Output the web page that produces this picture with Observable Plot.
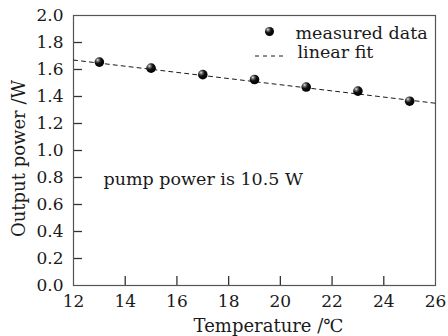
<!DOCTYPE html>
<html>
<head>
<meta charset="utf-8">
<script src="https://cdn.jsdelivr.net/npm/d3@7"></script>
<script src="https://cdn.jsdelivr.net/npm/@observablehq/plot@0.6"></script>
<style>
  html, body { margin: 0; padding: 0; background: #fff; }
</style>
</head>
<body>
<div id="chart"></div>
<script>
// Data
const temperature = [13, 15, 17, 19, 21, 23, 25];
const outputPower = [1.655, 1.61, 1.562, 1.526, 1.47, 1.44, 1.365];
const fitTemperature = [12, 26];
const fitPower = [1.67, 1.35];
const xTicks = [12, 14, 16, 18, 20, 22, 24, 26];
const yTicks = [0, 0.2, 0.4, 0.6, 0.8, 1.0, 1.2, 1.4, 1.6, 1.8, 2.0];
const xLabel = "Temperature /℃";
const yLabel = "Output power /W";
const legendLabels = ["measured data", "linear fit"];
const annotation = "pump power is 10.5 W";

const points = temperature.map((t, i) => ({t, p: outputPower[i]}));
const fit = fitTemperature.map((t, i) => ({t, p: fitPower[i]}));

const W = 448, H = 336;
const mL = 73, mR = 13, mT = 15, mB = 51;
const innerW = W - mL - mR, innerH = H - mT - mB;
const ink = "#1a1a1a";
const font = "'DejaVu Serif', serif";

const chart = Plot.plot({
  width: W, height: H,
  marginLeft: mL, marginRight: mR, marginTop: mT, marginBottom: mB,
  style: {fontFamily: font, fontSize: "17px", color: ink, background: "#fff"},
  x: {domain: [12, 26], ticks: xTicks},
  y: {domain: [0, 2], ticks: yTicks},
  marks: [
    Plot.axisX({ticks: xTicks, tickSize: 0, tickPadding: 9, label: null, tickFormat: d3.format("d")}),
    Plot.axisY({ticks: yTicks, tickSize: 0, tickPadding: 10, label: null, tickFormat: d3.format(".1f")}),
    Plot.tickX(xTicks.slice(1, -1), {x: d => d, insetTop: innerH - 9, stroke: "#333", strokeWidth: 1.3}),
    Plot.tickY(yTicks.slice(1, -1), {y: d => d, insetRight: innerW - 9, stroke: "#333", strokeWidth: 1.3}),
    Plot.frame({stroke: "#555", strokeWidth: 1.2}),
    Plot.line(fit, {x: "t", y: "p", stroke: ink, strokeWidth: 1, strokeDasharray: "4,4"}),
    Plot.dot(points, {x: "t", y: "p", r: 4.8, fill: "url(#ball)", stroke: "none"}),
    // legend
    Plot.dot([legendLabels[0]], {frameAnchor: "top-left", dx: 196, dy: 16, r: 4.5, fill: "url(#ball)"}),
    Plot.text([legendLabels[0]], {frameAnchor: "top-left", dx: 222, dy: 18, text: d => d, textAnchor: "start", lineAnchor: "middle", fontSize: 17.5, fill: ink}),
    Plot.text([legendLabels[1]], {frameAnchor: "top-left", dx: 224, dy: 37, text: d => d, textAnchor: "start", lineAnchor: "middle", fontSize: 17.5, fill: ink}),
    (index, scales, values, dims) => {
      const l = d3.create("svg:line")
        .attr("x1", dims.marginLeft + 182).attr("x2", dims.marginLeft + 211)
        .attr("y1", dims.marginTop + 41).attr("y2", dims.marginTop + 41)
        .attr("stroke", ink).attr("stroke-width", 1).attr("stroke-dasharray", "4,4");
      return l.node();
    },
    // annotation
    Plot.text([annotation], {frameAnchor: "top-left", dx: 30, dy: 164, text: d => d, textAnchor: "start", lineAnchor: "middle", fontSize: 17.5, fill: ink}),
    // axis titles
    Plot.text([xLabel], {frameAnchor: "bottom", dx: 14, dy: 41, text: d => d, textAnchor: "middle", lineAnchor: "middle", fontSize: 18, fill: ink}),
    Plot.text([yLabel], {frameAnchor: "left", dx: -54, dy: 8, rotate: -90, text: d => d, textAnchor: "middle", lineAnchor: "middle", fontSize: 18, fill: ink})
  ]
});

// radial gradient for the shaded sphere markers
const svg = d3.select(chart);
const defs = svg.insert("defs", ":first-child");
const g = defs.append("radialGradient").attr("id", "ball")
  .attr("cx", "35%").attr("cy", "32%").attr("r", "70%").attr("fx", "32%").attr("fy", "28%");
g.append("stop").attr("offset", "0%").attr("stop-color", "#eeeeee");
g.append("stop").attr("offset", "20%").attr("stop-color", "#777");
g.append("stop").attr("offset", "50%").attr("stop-color", "#111");
g.append("stop").attr("offset", "100%").attr("stop-color", "#000");

document.getElementById("chart").appendChild(chart);
</script>
</body>
</html>
